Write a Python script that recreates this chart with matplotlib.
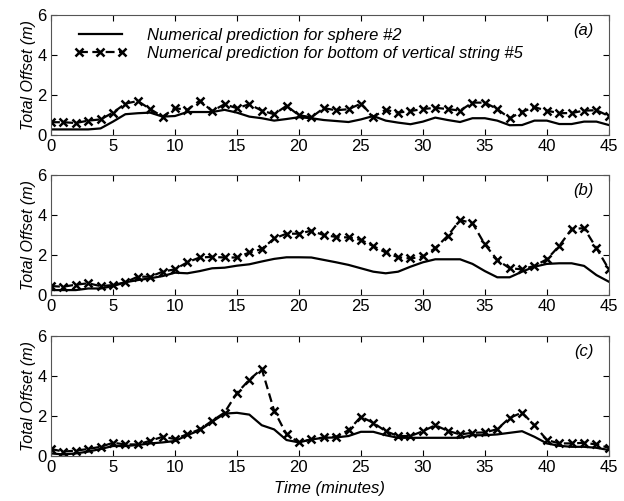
import numpy as np
import matplotlib
matplotlib.use("Agg")
import matplotlib.pyplot as plt

plt.rcParams['font.family'] = ['Liberation Sans', 'DejaVu Sans']

minutes = list(range(46))

# panel (a)
sphere_a = [0.28, 0.28, 0.28, 0.28, 0.33, 0.67, 1.04, 1.09, 1.12, 0.92,
            0.95, 1.15, 1.15, 1.15, 1.26, 1.12, 0.92, 0.84, 0.72, 0.80,
            0.89, 0.84, 0.75, 0.70, 0.65, 0.78, 0.95, 0.72, 0.62, 0.54,
            0.67, 0.87, 0.75, 0.65, 0.84, 0.84, 0.72, 0.49, 0.50, 0.72,
            0.72, 0.55, 0.55, 0.67, 0.67, 0.50]
string_a = [0.64, 0.64, 0.60, 0.72, 0.78, 1.12, 1.57, 1.70, 1.30, 0.92,
            1.34, 1.26, 1.72, 1.20, 1.54, 1.34, 1.54, 1.22, 1.04, 1.46,
            0.99, 0.89, 1.34, 1.24, 1.29, 1.57, 0.92, 1.26, 1.12, 1.20,
            1.30, 1.36, 1.30, 1.22, 1.62, 1.62, 1.30, 0.84, 1.16, 1.39,
            1.22, 1.09, 1.10, 1.22, 1.24, 0.95]

# panel (b)
sphere_b = [0.25, 0.25, 0.25, 0.33, 0.33, 0.45, 0.64, 0.75, 0.84, 0.95,
            1.12, 1.09, 1.20, 1.34, 1.37, 1.47, 1.54, 1.68, 1.81, 1.89,
            1.89, 1.88, 1.76, 1.64, 1.51, 1.34, 1.17, 1.09, 1.17, 1.42,
            1.64, 1.79, 1.79, 1.79, 1.56, 1.20, 0.89, 0.89, 1.17, 1.42,
            1.56, 1.59, 1.59, 1.46, 1.00, 0.67]
string_b = [0.45, 0.42, 0.52, 0.59, 0.45, 0.50, 0.64, 0.92, 0.92, 1.17,
            1.29, 1.64, 1.88, 1.91, 1.88, 1.88, 2.13, 2.30, 2.83, 3.07,
            3.07, 3.22, 3.00, 2.91, 2.88, 2.76, 2.45, 2.13, 1.89, 1.83,
            1.93, 2.35, 2.96, 3.75, 3.60, 2.53, 1.76, 1.34, 1.29, 1.46,
            1.79, 2.46, 3.30, 3.35, 2.35, 1.29]

# panel (c)
sphere_c = [0.13, 0.08, 0.13, 0.22, 0.35, 0.50, 0.50, 0.55, 0.63, 0.68,
            0.75, 1.04, 1.29, 1.71, 2.12, 2.16, 2.07, 1.54, 1.33, 0.80,
            0.68, 0.83, 0.91, 0.93, 1.00, 1.21, 1.21, 1.04, 0.91, 0.91,
            0.91, 0.91, 0.91, 0.91, 1.04, 1.04, 1.08, 1.16, 1.24, 0.96,
            0.63, 0.51, 0.46, 0.46, 0.41, 0.30]
string_c = [0.35, 0.22, 0.27, 0.35, 0.46, 0.66, 0.58, 0.58, 0.76, 0.96,
            0.85, 1.09, 1.33, 1.76, 2.17, 3.15, 3.81, 4.36, 2.27, 1.08,
            0.68, 0.83, 0.93, 0.96, 1.29, 1.96, 1.66, 1.24, 1.00, 1.00,
            1.24, 1.54, 1.26, 1.08, 1.16, 1.18, 1.34, 1.91, 2.17, 1.54,
            0.80, 0.63, 0.63, 0.66, 0.58, 0.41]

panels = [("(a)", sphere_a, string_a),
          ("(b)", sphere_b, string_b),
          ("(c)", sphere_c, string_c)]

fig = plt.figure(figsize=(6.24, 5.01), dpi=100)
bottoms = [0.7305, 0.411, 0.0898]

for (tag, sph, strg), b in zip(panels, bottoms):
    ax = fig.add_axes([0.0817, b, 0.894, 0.2395])
    ax.plot(minutes, sph, color='black', linewidth=1.6,
            label='Numerical prediction for sphere #2')
    ax.plot(minutes, strg, color='black', linewidth=1.6, linestyle=(0, (4, 2)),
            marker='x', markersize=6, markeredgewidth=1.8,
            label='Numerical prediction for bottom of vertical string #5')
    ax.set_xlim(0, 45)
    ax.set_ylim(0, 6)
    ax.set_xticks(range(0, 46, 5))
    ax.set_yticks([0, 2, 4, 6])
    ax.tick_params(direction='in', top=True, right=True, labelsize=12,
                   length=4, width=0.8, pad=3)
    for s in ax.spines.values():
        s.set_linewidth(0.8)
        s.set_color('#555555')
    ax.set_ylabel('Total Offset (m)', fontsize=11.5, style='italic', labelpad=1)
    ax.text(0.972, 0.87, tag, transform=ax.transAxes, ha='right', va='center',
            fontsize=12, style='italic')
    if tag == "(a)":
        ax.legend(loc='upper left', bbox_to_anchor=(0.02, 0.99), frameon=False,
                  prop={'style': 'italic', 'size': 12}, numpoints=3,
                  handlelength=3.2, handletextpad=1.2, labelspacing=0.2,
                  borderaxespad=0.3)
    if tag == "(c)":
        ax.set_xlabel('Time (minutes)', fontsize=12, style='italic', labelpad=4)

fig.savefig('out.png', dpi=100)
